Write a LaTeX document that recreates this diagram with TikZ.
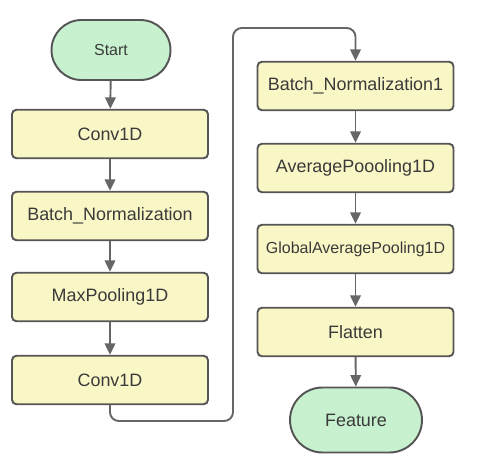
\documentclass[tikz,border=0pt]{standalone}
\usepackage{fontspec}
\setmainfont{Liberation Sans}
\usepackage{tikz}
\usetikzlibrary{arrows.meta, shapes.misc}
\definecolor{boxfill}{HTML}{FAF7C6}
\definecolor{endfill}{HTML}{C8F1CF}
\definecolor{edgegray}{HTML}{555555}
\definecolor{textgray}{HTML}{3A3A3A}
\tikzset{
	layerbox/.style={draw=edgegray, line width=1.1pt, fill=boxfill, rounded corners=2.5pt,
		minimum width=3.92cm, minimum height=0.97cm, inner sep=0pt,
		text=textgray, font=\fontsize{10.2}{12}\selectfont}
}
\tikzset{
	terminal/.style={draw=edgegray, line width=1.1pt, fill=endfill, rounded rectangle,
		inner sep=0pt, text=textgray, font=\fontsize{10.2}{12}\selectfont}
}
\tikzset{
	flow/.style={->, draw=edgegray!90, line width=1.1pt}
}
\newcommand{\smalltxt}[1]{{\fontsize{9.1}{11}\selectfont #1}}

\begin{document}
\begin{tikzpicture}[x=0.02cm, y=-0.02cm, >={Triangle[length=6.5pt,width=6pt]}]
      \useasboundingbox (0,0) rectangle (480,470);
      % left column
      \node[terminal, minimum width=2.38cm, minimum height=1.2cm] (start) at (111,50) {\smalltxt{Start}};
      \node[layerbox] (conv1) at (110,134) {Conv1D};
      \node[layerbox] (bn)    at (110,216) {Batch\_Normalization};
      \node[layerbox] (mpool) at (110,297) {MaxPooling1D};
      \node[layerbox] (conv2) at (110,380) {Conv1D};
      % right column
      \node[layerbox] (bn1)     at (355.5,86)  {Batch\_Normalization1};
      \node[layerbox] (apool)   at (355.5,168) {AveragePoooling1D};
      \node[layerbox] (gapool)  at (355.5,249) {\smalltxt{GlobalAveragePooling1D}};
      \node[layerbox] (flatten) at (355.5,332) {Flatten};
      \node[terminal, minimum width=2.64cm, minimum height=1.3cm] (feature) at (356,420) {Feature};
      \coordinate (low)  at (233,421);
      \coordinate (high) at (233,28);
      \draw[flow] (start) -- (conv1);
      \draw[flow] (conv1) -- (bn);
      \draw[flow] (bn) -- (mpool);
      \draw[flow] (mpool) -- (conv2);
      \draw[flow, rounded corners=5pt] (conv2.south) |- (low) -- (high) -| (bn1.north);
      \draw[flow] (bn1) -- (apool);
      \draw[flow] (apool) -- (gapool);
      \draw[flow] (gapool) -- (flatten);
      \draw[flow] (flatten) -- (feature);
\end{tikzpicture}
\end{document}
